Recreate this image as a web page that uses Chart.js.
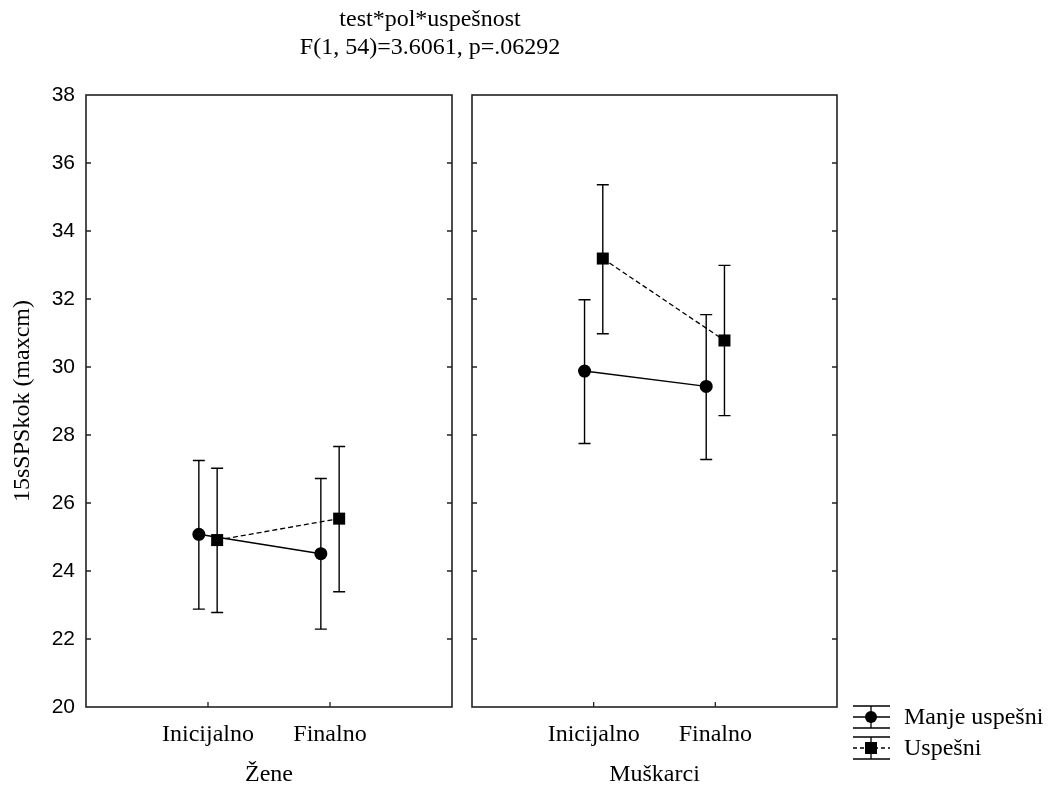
<!DOCTYPE html>
<html><head><meta charset="utf-8">
<script src="https://cdn.jsdelivr.net/npm/chart.js@4.4.1/dist/chart.umd.min.js"></script>
<style>
html,body{margin:0;padding:0;background:#fff;}
#wrap{position:relative;width:1050px;height:789px;background:#fff;}
canvas{position:absolute;left:0;top:0;}
</style></head><body>
<div id="wrap"><canvas id="cA" width="1050" height="789"></canvas><canvas id="cB" width="1050" height="789"></canvas></div>
<script>
// ---- data ----
const categories = ['Inicijalno', 'Finalno'];
const groups = ['Žene', 'Muškarci'];
const seriesNames = ['Manje uspešni', 'Uspešni'];
const yTicks = [20, 22, 24, 26, 28, 30, 32, 34, 36, 38];
const titleLines = ['test*pol*uspešnost', 'F(1, 54)=3.6061, p=.06292'];
const yTitle = '15sSPSkok (maxcm)';

const zeneManjeMean = [25.08, 24.51];
const zeneManjeLow  = [22.88, 22.29];
const zeneManjeHigh = [27.25, 26.72];
const zeneUspMean   = [24.91, 25.54];
const zeneUspLow    = [22.78, 23.39];
const zeneUspHigh   = [27.02, 27.66];

const muskManjeMean = [29.88, 29.43];
const muskManjeLow  = [27.75, 27.28];
const muskManjeHigh = [31.98, 31.54];
const muskUspMean   = [33.19, 30.78];
const muskUspLow    = [30.98, 28.57];
const muskUspHigh   = [35.36, 32.99];

// ---- style ----
const OFFSET = 0.075;
const SERIF = '"Liberation Serif", "Times New Roman", serif';
const SANS = '"Liberation Sans", Arial, sans-serif';

function pts(mean, off) { return mean.map((v, i) => ({ x: i + 1 + off, y: v })); }

function makeDatasets(m1, l1, h1, m2, l2, h2) {
  return [
    { label: seriesNames[0], data: pts(m1, -OFFSET), errLow: l1, errHigh: h1,
      showLine: true, borderColor: '#000', borderWidth: 1.5, backgroundColor: '#000',
      pointStyle: 'circle', pointRadius: 6.5, pointBorderWidth: 0, pointHoverRadius: 6.5 },
    { label: seriesNames[1], data: pts(m2, OFFSET), errLow: l2, errHigh: h2,
      showLine: true, borderColor: '#000', borderWidth: 1.3, borderDash: [5, 3], backgroundColor: '#000',
      pointStyle: 'rect', pointRadius: 8.5, pointBorderWidth: 0, pointHoverRadius: 8.5 }
  ];
}

const panelPlugin = {
  id: 'panel',
  beforeDatasetsDraw(chart) {
    const ctx = chart.ctx, xs = chart.scales.x, ys = chart.scales.y;
    ctx.save();
    ctx.strokeStyle = '#000';
    ctx.lineWidth = 1.4;
    chart.data.datasets.forEach(ds => {
      ds.data.forEach((p, i) => {
        const x = xs.getPixelForValue(p.x);
        const yl = ys.getPixelForValue(ds.errLow[i]);
        const yh = ys.getPixelForValue(ds.errHigh[i]);
        ctx.beginPath();
        ctx.moveTo(x, yl); ctx.lineTo(x, yh);
        ctx.moveTo(x - 6, yl); ctx.lineTo(x + 6, yl);
        ctx.moveTo(x - 6, yh); ctx.lineTo(x + 6, yh);
        ctx.stroke();
      });
    });
    ctx.restore();
  },
  afterDraw(chart) {
    const ctx = chart.ctx, a = chart.chartArea, xs = chart.scales.x, ys = chart.scales.y;
    ctx.save();
    ctx.strokeStyle = '#222';
    ctx.lineWidth = 1.6;
    ctx.strokeRect(a.left, a.top, a.right - a.left, a.bottom - a.top);
    ctx.lineWidth = 1.3;
    ctx.beginPath();
    yTicks.forEach(v => {
      const y = ys.getPixelForValue(v);
      if (v === yTicks[0] || v === yTicks[yTicks.length - 1]) return;
      ctx.moveTo(a.left, y); ctx.lineTo(a.left + 5, y);
      ctx.moveTo(a.right, y); ctx.lineTo(a.right - 5, y);
    });
    categories.forEach((c, i) => {
      const x = xs.getPixelForValue(i + 1);
      ctx.moveTo(x, a.bottom); ctx.lineTo(x, a.bottom - 5);
    });
    ctx.stroke();
    ctx.restore();
  }
};

const titlePlugin = {
  id: 'titleText',
  afterDraw(chart) {
    const ctx = chart.ctx;
    ctx.save();
    ctx.fillStyle = '#000';
    ctx.font = '24px ' + SERIF;
    ctx.textAlign = 'center';
    ctx.textBaseline = 'alphabetic';
    ctx.fillText(titleLines[0], 430, 26);
    ctx.fillText(titleLines[1], 430, 54);
    ctx.restore();
  }
};

const legendPlugin = {
  id: 'legendBox',
  afterDraw(chart) {
    const ctx = chart.ctx;
    ctx.save();
    ctx.strokeStyle = '#000';
    ctx.fillStyle = '#000';
    const x0 = 853, x1 = 890, xc = 871;
    const items = [{ y: 717, dash: [], shape: 'circle' }, { y: 748, dash: [4, 3], shape: 'rect' }];
    items.forEach((it, k) => {
      ctx.lineWidth = 1.3;
      ctx.setLineDash([]);
      ctx.beginPath();
      ctx.moveTo(x0, it.y - 11); ctx.lineTo(x1, it.y - 11);
      ctx.moveTo(x0, it.y + 11); ctx.lineTo(x1, it.y + 11);
      ctx.moveTo(xc, it.y - 11); ctx.lineTo(xc, it.y + 11);
      ctx.stroke();
      ctx.setLineDash(it.dash);
      ctx.beginPath();
      ctx.moveTo(x0, it.y); ctx.lineTo(x1, it.y);
      ctx.stroke();
      ctx.setLineDash([]);
      ctx.beginPath();
      if (it.shape === 'circle') ctx.arc(xc, it.y, 6, 0, Math.PI * 2);
      else ctx.rect(xc - 6, it.y - 6, 12, 12);
      ctx.fill();
      ctx.font = '24px ' + SERIF;
      ctx.textAlign = 'left';
      ctx.textBaseline = 'middle';
      ctx.fillText(seriesNames[k], 904, it.y + 1);
    });
    ctx.restore();
  }
};

function xScale(group) {
  return {
    type: 'linear', min: 0, max: 3,
    afterBuildTicks: s => { s.ticks = categories.map((c, i) => ({ value: i + 1 })); },
    ticks: { callback: v => categories[v - 1] || '', color: '#000', font: { family: SERIF, size: 24 }, padding: 13, maxRotation: 0, autoSkip: false },
    grid: { display: false, drawTicks: false },
    border: { display: false },
    title: { display: true, text: group, color: '#000', font: { family: SERIF, size: 24 }, padding: { top: 0, bottom: 0 } },
    afterFit: s => { s.height = 82; }
  };
}

function baseOptions(group, showY, padding) {
  return {
    responsive: false, animation: false, devicePixelRatio: 1,
    layout: { padding: padding },
    plugins: { legend: { display: false }, tooltip: { enabled: false }, title: { display: false } },
    scales: {
      x: xScale(group),
      y: {
        type: 'linear', min: 20, max: 38, display: showY,
        afterBuildTicks: s => { s.ticks = yTicks.map(v => ({ value: v })); },
        grid: { display: false, drawTicks: false },
        border: { display: false },
        ticks: { color: '#000', font: { family: SANS, size: 21 }, padding: 11 },
        title: { display: showY, text: yTitle, color: '#000', font: { family: SERIF, size: 24 }, padding: { top: 8, bottom: 0 } },
        afterFit: s => { s.width = showY ? 86 : 0; }
      }
    }
  };
}

new Chart(document.getElementById('cA'), {
  type: 'scatter',
  data: { datasets: makeDatasets(zeneManjeMean, zeneManjeLow, zeneManjeHigh, zeneUspMean, zeneUspLow, zeneUspHigh) },
  options: baseOptions(groups[0], true, { top: 95, left: 0, right: 598, bottom: 0 }),
  plugins: [panelPlugin, titlePlugin]
});

new Chart(document.getElementById('cB'), {
  type: 'scatter',
  data: { datasets: makeDatasets(muskManjeMean, muskManjeLow, muskManjeHigh, muskUspMean, muskUspLow, muskUspHigh) },
  options: baseOptions(groups[1], false, { top: 95, left: 472, right: 213, bottom: 0 }),
  plugins: [panelPlugin, legendPlugin]
});
</script>
</body></html>
